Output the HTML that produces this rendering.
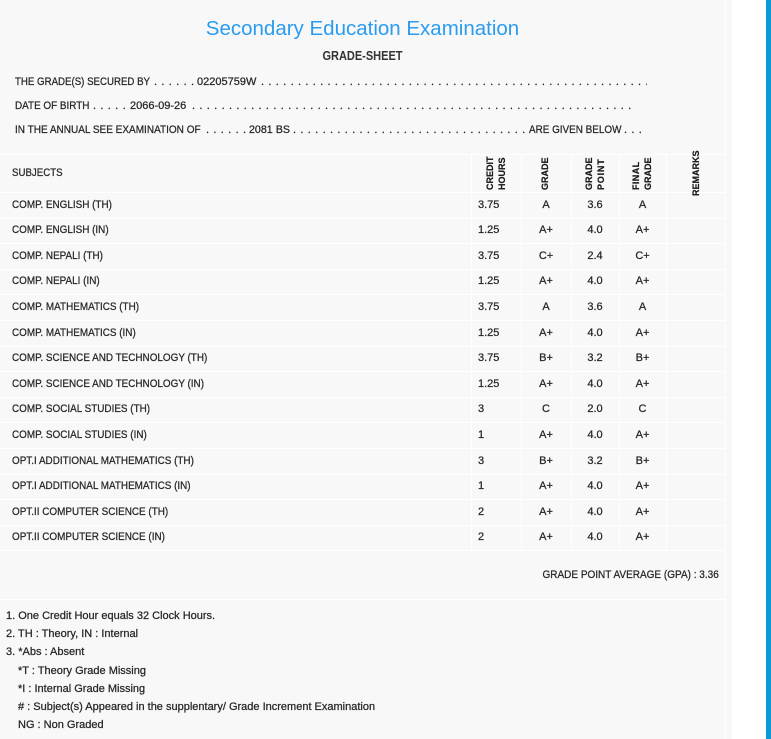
<!DOCTYPE html>
<html>
<head>
<meta charset="utf-8">
<style>
  html,body{margin:0;padding:0}
  body{width:771px;height:739px;overflow:hidden;background:#fff;font-family:"Liberation Sans",sans-serif;color:#262626;position:relative;-webkit-text-stroke:0.25px #262626}
  .panel{position:absolute;left:0;top:0;width:732px;height:739px;background:#f8f8f8}
  .bar{position:absolute;left:766px;top:0;width:5px;height:739px;background:#0b9ad6}
  .h{position:absolute;height:1px;background:#fff}
  .v{position:absolute;width:1px;background:#fff}
  .t{position:absolute;white-space:nowrap;font-size:11px;line-height:13px;transform-origin:0 50%}
  .dots{position:absolute;overflow:hidden;white-space:nowrap;font-size:11px;line-height:13px;letter-spacing:.64px;height:13px}
  .title{position:absolute;left:0;top:17px;width:725px;text-align:center;font-size:20.5px;line-height:24px;color:#2a9cf0;white-space:nowrap;-webkit-text-stroke:0}
  .gs{position:absolute;left:0;top:49px;width:725px;text-align:center;font-size:12.5px;line-height:15px;font-weight:bold;color:#333;white-space:nowrap;-webkit-text-stroke:0}
  .gs span{display:inline-block;transform:scaleX(.88)}
  .row{position:absolute;left:0;width:725px;height:25.6px;line-height:25.6px;font-size:11px}
  .row span{position:absolute;white-space:nowrap}
  .sub{left:12px;transform:scaleX(.9);transform-origin:0 50%}
  .ch{left:478px}
  .g{left:521px;width:50px;text-align:center}
  .gp{left:571px;width:48px;text-align:center}
  .fg{left:619px;width:47px;text-align:center}
  .vh{position:absolute;writing-mode:vertical-rl;transform:rotate(180deg);font-weight:bold;font-size:9px;line-height:12px;color:#1a1a1a;white-space:nowrap;text-align:start;-webkit-text-stroke:0.2px #1a1a1a}
  .notes{position:absolute;left:6px;top:607.4px;font-size:11px;line-height:18.05px;white-space:nowrap}
  .notes div.i{padding-left:12px}
</style>
</head>
<body>
<div class="panel"></div>
<div class="bar"></div>

<div class="v" style="left:725px;top:0;height:739px"></div>

<div class="title">Secondary Education Examination</div>
<div class="gs"><span>GRADE-SHEET</span></div>

<span class="t" style="left:15px;top:76px;transform:scaleX(.88)">THE GRADE(S) SECURED BY</span>
<span class="dots" style="left:154px;top:76px;width:42px">. . . . . . . . . . </span>
<span class="t" style="left:197px;top:76px">02205759W</span>
<span class="dots" style="left:261px;top:76px;width:386px">. . . . . . . . . . . . . . . . . . . . . . . . . . . . . . . . . . . . . . . . . . . . . . . . . . . . . . . . . . . . </span>

<span class="t" style="left:15px;top:100px;transform:scaleX(.9)">DATE OF BIRTH</span>
<span class="dots" style="left:93px;top:100px;width:34px">. . . . . . . . . . </span>
<span class="t" style="left:130px;top:100px">2066-09-26</span>
<span class="dots" style="left:192px;top:100px;width:444px">. . . . . . . . . . . . . . . . . . . . . . . . . . . . . . . . . . . . . . . . . . . . . . . . . . . . . . . . . . . . . . . . . . . . </span>

<span class="t" style="left:15px;top:124px;transform:scaleX(.91)">IN THE ANNUAL SEE EXAMINATION OF</span>
<span class="dots" style="left:206px;top:124px;width:42px">. . . . . . . . . . </span>
<span class="t" style="left:249px;top:124px;transform:scaleX(.97)">2081 BS</span>
<span class="dots" style="left:293px;top:124px;width:234px">. . . . . . . . . . . . . . . . . . . . . . . . . . . . . . . . . . . . . . . . </span>
<span class="t" style="left:529px;top:124px;transform:scaleX(.9)">ARE GIVEN BELOW</span>
<span class="dots" style="left:624px;top:124px;width:20px">. . . . . </span>

<div class="h" style="left:0;width:725px;top:154px"></div>
<div class="h" style="left:0;width:725px;top:192px"></div>
<div class="h" style="left:0;width:725px;top:217.6px"></div>
<div class="h" style="left:0;width:725px;top:243.2px"></div>
<div class="h" style="left:0;width:725px;top:268.8px"></div>
<div class="h" style="left:0;width:725px;top:294.4px"></div>
<div class="h" style="left:0;width:725px;top:320px"></div>
<div class="h" style="left:0;width:725px;top:345.6px"></div>
<div class="h" style="left:0;width:725px;top:371.2px"></div>
<div class="h" style="left:0;width:725px;top:396.8px"></div>
<div class="h" style="left:0;width:725px;top:422.4px"></div>
<div class="h" style="left:0;width:725px;top:448px"></div>
<div class="h" style="left:0;width:725px;top:473.6px"></div>
<div class="h" style="left:0;width:725px;top:499.2px"></div>
<div class="h" style="left:0;width:725px;top:524.8px"></div>
<div class="h" style="left:0;width:725px;top:550px"></div>
<div class="h" style="left:0;width:725px;top:599px"></div>

<div class="v" style="left:471px;top:154px;height:396px"></div>
<div class="v" style="left:521px;top:154px;height:396px"></div>
<div class="v" style="left:571px;top:154px;height:396px"></div>
<div class="v" style="left:619px;top:154px;height:396px"></div>
<div class="v" style="left:666px;top:154px;height:396px"></div>

<span class="t" style="left:12px;top:155px;line-height:37px;transform:scaleX(.88)">SUBJECTS</span>
<div class="vh" style="left:484px;top:149.5px;height:40px;width:24px">CREDIT<br>HOURS</div>
<div class="vh" style="left:539px;top:149.5px;height:40px;width:12px">GRADE</div>
<div class="vh" style="left:583px;top:149.5px;height:40px;width:24px">GRADE<br><span style="letter-spacing:.8px">POINT</span></div>
<div class="vh" style="left:630px;top:149.5px;height:40px;width:24px"><span style="letter-spacing:.4px">FINAL</span><br>GRADE</div>
<div class="vh" style="left:689.5px;top:149px;height:47px;width:12px">REMARKS</div>

<div class="row" style="top:192.6px"><span class="sub">COMP. ENGLISH (TH)</span><span class="ch">3.75</span><span class="g">A</span><span class="gp">3.6</span><span class="fg">A</span></div>
<div class="row" style="top:218.2px"><span class="sub">COMP. ENGLISH (IN)</span><span class="ch">1.25</span><span class="g">A+</span><span class="gp">4.0</span><span class="fg">A+</span></div>
<div class="row" style="top:243.8px"><span class="sub">COMP. NEPALI (TH)</span><span class="ch">3.75</span><span class="g">C+</span><span class="gp">2.4</span><span class="fg">C+</span></div>
<div class="row" style="top:269.4px"><span class="sub">COMP. NEPALI (IN)</span><span class="ch">1.25</span><span class="g">A+</span><span class="gp">4.0</span><span class="fg">A+</span></div>
<div class="row" style="top:295px"><span class="sub">COMP. MATHEMATICS (TH)</span><span class="ch">3.75</span><span class="g">A</span><span class="gp">3.6</span><span class="fg">A</span></div>
<div class="row" style="top:320.6px"><span class="sub">COMP. MATHEMATICS (IN)</span><span class="ch">1.25</span><span class="g">A+</span><span class="gp">4.0</span><span class="fg">A+</span></div>
<div class="row" style="top:346.2px"><span class="sub">COMP. SCIENCE AND TECHNOLOGY (TH)</span><span class="ch">3.75</span><span class="g">B+</span><span class="gp">3.2</span><span class="fg">B+</span></div>
<div class="row" style="top:371.8px"><span class="sub">COMP. SCIENCE AND TECHNOLOGY (IN)</span><span class="ch">1.25</span><span class="g">A+</span><span class="gp">4.0</span><span class="fg">A+</span></div>
<div class="row" style="top:397.4px"><span class="sub">COMP. SOCIAL STUDIES (TH)</span><span class="ch">3</span><span class="g">C</span><span class="gp">2.0</span><span class="fg">C</span></div>
<div class="row" style="top:423px"><span class="sub">COMP. SOCIAL STUDIES (IN)</span><span class="ch">1</span><span class="g">A+</span><span class="gp">4.0</span><span class="fg">A+</span></div>
<div class="row" style="top:448.6px"><span class="sub">OPT.I ADDITIONAL MATHEMATICS (TH)</span><span class="ch">3</span><span class="g">B+</span><span class="gp">3.2</span><span class="fg">B+</span></div>
<div class="row" style="top:474.2px"><span class="sub">OPT.I ADDITIONAL MATHEMATICS (IN)</span><span class="ch">1</span><span class="g">A+</span><span class="gp">4.0</span><span class="fg">A+</span></div>
<div class="row" style="top:499.8px"><span class="sub">OPT.II COMPUTER SCIENCE (TH)</span><span class="ch">2</span><span class="g">A+</span><span class="gp">4.0</span><span class="fg">A+</span></div>
<div class="row" style="top:525.4px"><span class="sub">OPT.II COMPUTER SCIENCE (IN)</span><span class="ch">2</span><span class="g">A+</span><span class="gp">4.0</span><span class="fg">A+</span></div>

<span class="t" style="right:52px;top:551px;line-height:49px;transform:scaleX(.91);transform-origin:100% 50%">GRADE POINT AVERAGE (GPA) : 3.36</span>

<div class="notes">
  <div>1. One Credit Hour equals 32 Clock Hours.</div>
  <div>2. TH : Theory, IN : Internal</div>
  <div>3. *Abs : Absent</div>
  <div class="i">*T : Theory Grade Missing</div>
  <div class="i">*I : Internal Grade Missing</div>
  <div class="i"># : Subject(s) Appeared in the supplentary/ Grade Increment Examination</div>
  <div class="i">NG : Non Graded</div>
</div>
</body>
</html>
